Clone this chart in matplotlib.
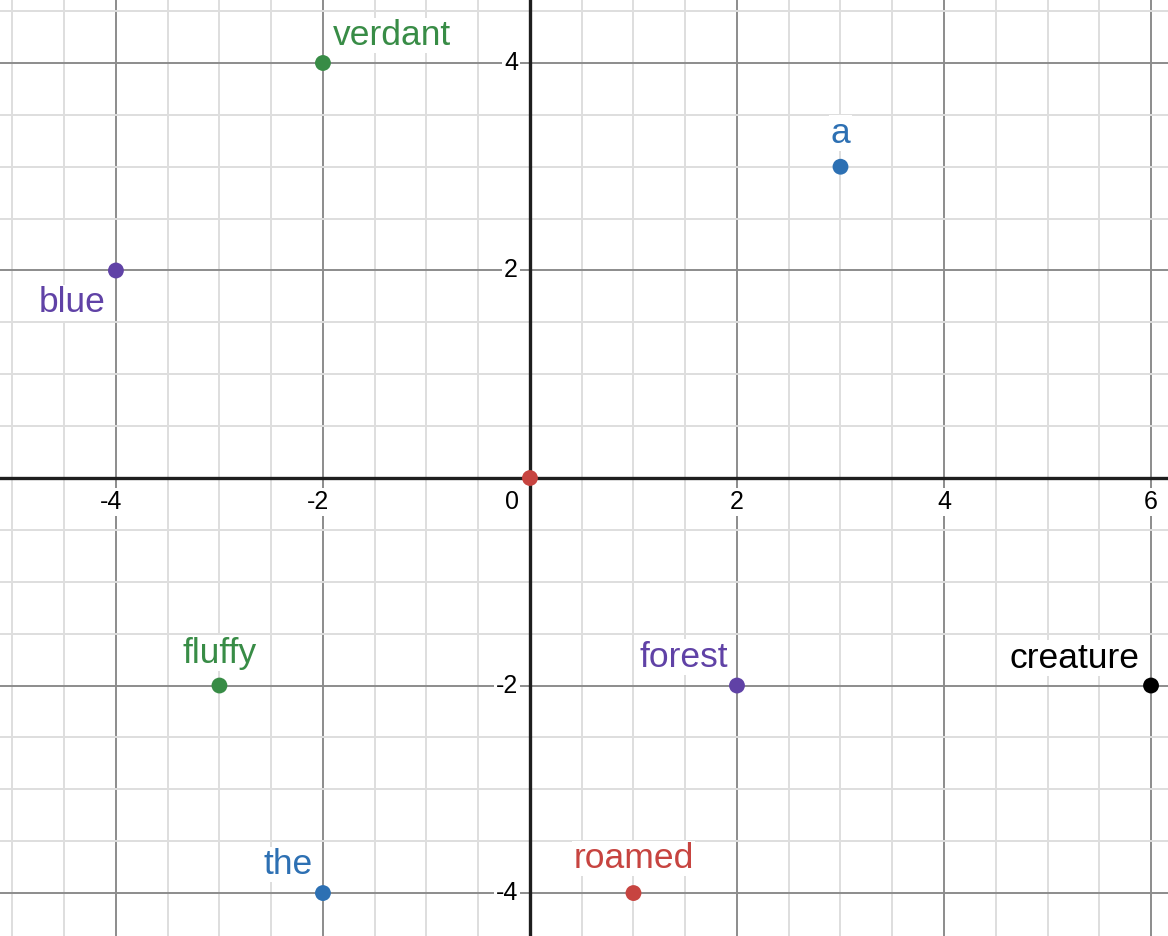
import matplotlib
matplotlib.use('Agg')
import matplotlib.pyplot as plt
from matplotlib.ticker import MultipleLocator

# points and labels
words = ['verdant', 'a', 'blue', '', 'fluffy', 'forest', 'creature', 'the', 'roamed']
xs = [-2, 3, -4, 0, -3, 2, 6, -2, 1]
ys = [4, 3, 2, 0, -2, -2, -2, -4, -4]
x_ticks = [-4, -2, 2, 4, 6]
y_ticks = [-4, -2, 2, 4]

# styling
colors = ['#388c46', '#2d70b3', '#6042a6', '#c74440', '#388c46',
          '#6042a6', '#000000', '#2d70b3', '#c74440']
# (dx, dy, ha) baseline offsets in pixels for each label
offsets = [(10, 18, 'left'), (0, 24, 'center'), (-10, -42, 'right'), (0, 0, 'center'),
           (0, 23, 'center'), (-9, 19, 'right'), (-12, 18, 'right'),
           (-10, 19, 'right'), (0, 25, 'center')]

plt.rcParams['font.family'] = ['Liberation Sans', 'DejaVu Sans']

fig = plt.figure(figsize=(11.68, 9.36), dpi=100)
ax = fig.add_axes([0, 0, 1, 1])
ax.set_xlim(-5.12, 6.164)
ax.set_ylim(-4.414, 4.607)

ax.xaxis.set_major_locator(MultipleLocator(2))
ax.xaxis.set_minor_locator(MultipleLocator(0.5))
ax.yaxis.set_major_locator(MultipleLocator(2))
ax.yaxis.set_minor_locator(MultipleLocator(0.5))
ax.grid(which='minor', color='#dedede', lw=1.4, zorder=0)
ax.grid(which='major', color='#8c8c8c', lw=1.4, zorder=1)
ax.tick_params(which='both', length=0, labelbottom=False, labelleft=False)
for s in ax.spines.values():
    s.set_visible(False)

ax.axhline(0, color='#1e1e1e', lw=2.4, zorder=2)
ax.axvline(0, color='#1e1e1e', lw=2.4, zorder=2)

box = dict(facecolor='white', edgecolor='none', pad=1.5)
for t in x_ticks:
    # minus sign hangs to the left of the digit
    shift = -5 if t < 0 else 0
    ax.annotate(str(t), (t, 0), xytext=(shift, -24), textcoords='offset pixels',
                ha='center', va='center', fontsize=18, bbox=box, zorder=3)
for t in y_ticks:
    ax.annotate(str(t), (0, t), xytext=(-12, 0), textcoords='offset pixels',
                ha='right', va='center', fontsize=18, bbox=box, zorder=3)
ax.annotate('0', (0, 0), xytext=(-18, -24), textcoords='offset pixels',
            ha='center', va='center', fontsize=18, zorder=3)

ax.scatter(xs, ys, s=130, c=colors, zorder=5, linewidths=0)
lbox = dict(facecolor='white', edgecolor='none', pad=1.0)
for w, x, y, c, (dx, dy, ha) in zip(words, xs, ys, colors, offsets):
    if w:
        ax.annotate(w, (x, y), xytext=(dx, dy), textcoords='offset pixels',
                    ha=ha, va='baseline', fontsize=25.5, color=c, bbox=lbox, zorder=6)

fig.savefig('out.png', dpi=100)
